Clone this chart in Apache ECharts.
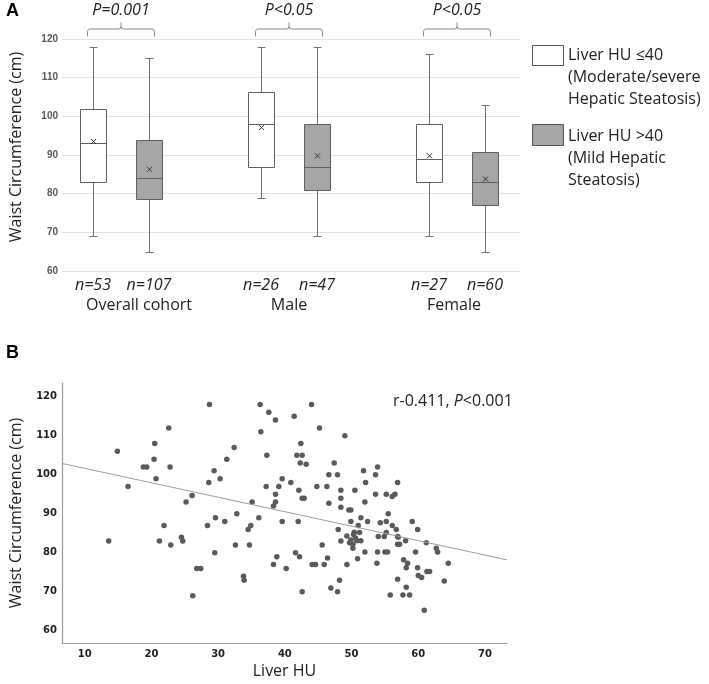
<!DOCTYPE html>
<html><head><meta charset="utf-8">
<script src="https://cdn.jsdelivr.net/npm/echarts@6/dist/echarts.min.js"></script>
<style>html,body{margin:0;padding:0;background:#fff}#c{width:709px;height:684px}</style>
</head><body><div id="c"></div>
<script>
// ---------- Panel A data ----------
const groups = ['Overall cohort', 'Male', 'Female'];
const pValues = ['P=0.001', 'P<0.05', 'P<0.05'];
const nLow = [53, 26, 27];
const nHigh = [107, 47, 60];
// [min, Q1, median, Q3, max]
const statsLow = [[69, 83, 93, 102, 118], [79, 87, 98, 106.2, 118], [69, 83, 89, 98, 116]];
const statsHigh = [[65, 78.5, 84, 94, 115], [69, 81, 87, 98, 118], [65, 77, 83, 90.7, 103]];
const meanLow = [93.5, 97.1, 89.8];
const meanHigh = [86.3, 89.8, 83.8];
const legendNames = ['Liver HU \u226440\n(Moderate/severe\nHepatic Steatosis)', 'Liver HU >40\n(Mild Hepatic\nSteatosis)'];

// ---------- Panel B data ----------
const scatterPoints = [
  [13.6,83],[14.9,106],[16.5,97],[18.8,102],[19.3,102],[20.5,108],[20.4,104],[20.7,99],[21.9,87],[21.2,83],
  [22.6,112],[22.8,102],[22.9,82],[24.5,84],[24.7,83],[25.2,93],[26.1,94.7],[26.2,69],[26.8,76],[27.4,76],
  [28.4,87],[28.6,98],[28.7,118],[29.4,101],[29.6,89],[29.5,80],[30.3,99],[31.0,88],[31.3,104],[32.4,107],
  [32.8,90],[32.6,82],[33.8,74],[33.9,73],[34.5,86],[34.9,87],[34.7,82],[35.1,93],[36.1,89],[36.3,118],
  [36.4,111],[37.2,97],[37.3,105],[37.6,116],[38.3,77],[38.3,92],[38.6,93],[38.6,95],[38.6,114],[38.8,79],
  [39.1,97],[39.6,99],[39.6,88],[40.2,76],[40.9,98],[41.4,115],[41.6,80],[41.8,105],[42.0,88],[42.1,96],
  [42.2,79],[42.3,103],[42.4,108],[42.6,105],[42.6,70],[42.6,94],[42.9,94],[43.2,102.7],[44.0,118],[44.1,77],
  [44.6,77],[44.8,97],[45.2,112],[45.6,82],[45.9,77],[46.3,97],[46.4,78.7],[46.6,92.7],[46.6,100],[46.9,71],
  [47.4,103],[47.9,100],[48.0,86],[47.9,70],[48.2,73],[48.4,94],[48.4,96],[48.4,91.7],[48.4,83],[49.0,110],
  [49.3,77],[49.6,91],[49.9,91],
  [52.0,93],[55.5,90],[51.4,89],[49.9,88],[52.4,88],[54.3,87.7],[55.2,88],[56.1,87],[59.1,88],[51.0,87],
  [56.7,86],[59.9,86],[49.3,84.3],[50.4,85.3],[51.2,85.2],[49.9,83.3],[49.7,82.6],[50.2,82.2],[50.2,81.2],[50.8,83.1],
  [51.4,83.1],[52.0,80.2],[50.9,78.5],[53.9,80.2],[55.0,80.2],[55.4,80.2],[54.0,84.2],[54.9,84.2],[55.2,85.2],[56.9,84.2],
  [58.1,83.1],[56.9,82.2],[57.2,82.2],[61.2,82.6],[62.7,81.2],[62.9,80.2],[59.6,80.2],[53.8,77.3],[57.8,78.2],[58.4,77.3],
  [58.2,76.2],[59.9,76.2],[61.3,75.2],[61.7,75.2],[60.0,74.2],[60.5,73.7],[64.5,77.3],[63.9,72.8],[56.9,73.2],[58.2,71.2],
  [55.8,69.2],[57.7,69.2],[58.7,69.2],[60.9,65.3],
  [51.8,101],[53.9,102],[53.6,100],[52.1,98],[56.9,98],[50.5,96],[53.6,95],[55.2,95],[56.5,95],[56.1,94.4],
  [50.3,84.7],[50.6,83.8],[57.0,84]
];
const fitLine = [[6.6, 102.9], [73.3, 78.2]];
const xTicksB = [10, 20, 30, 40, 50, 60, 70];
const yTicksB = [60, 70, 80, 90, 100, 110, 120];
const corrR = 'r-0.411, ';
const corrP = '<0.001';

// ---------- build structures ----------
const slotNames = [];
const boxData = [];
const bracketData = [];
groups.forEach((g, i) => {
  const lo = slotNames.length;
  slotNames.push('n=' + nLow[i]);
  slotNames.push('n=' + nHigh[i]);
  if (i < groups.length - 1) slotNames.push(' '.repeat(i + 1));
  boxData.push([lo].concat(statsLow[i], [meanLow[i], 0]));
  boxData.push([lo + 1].concat(statsHigh[i], [meanHigh[i], 1]));
  bracketData.push([lo, lo + 1, i]);
});

const groupLabelDx = [18, 0, -3];
const FONT = '"Open Sans", "Liberation Sans", sans-serif';
const BOX_STROKE = '#5f5f5f';
const HIGH_FILL = '#a6a6a6';

function renderBox(params, api) {
  const x = api.value(0);
  const v = [1, 2, 3, 4, 5, 6].map(k => api.value(k));
  const kind = api.value(7);
  const p = v.map(val => api.coord([x, val]));
  const cx = Math.round(p[0][0]) + 0.5;
  const hw = 13, cap = 4, m = 2.5;
  const st = { stroke: BOX_STROKE, lineWidth: 1 };
  const wst = { stroke: '#707070', lineWidth: 1 };
  const yMin = Math.round(p[0][1]) + 0.5, yQ1 = Math.round(p[1][1]) + 0.5, yMd = Math.round(p[2][1]) + 0.5,
        yQ3 = Math.round(p[3][1]) + 0.5, yMax = Math.round(p[4][1]) + 0.5, yMean = p[5][1];
  return {
    type: 'group',
    children: [
      { type: 'line', shape: { x1: cx, y1: yMax, x2: cx, y2: yQ3 }, style: wst },
      { type: 'line', shape: { x1: cx, y1: yQ1, x2: cx, y2: yMin }, style: wst },
      { type: 'line', shape: { x1: cx - cap, y1: yMax, x2: cx + cap, y2: yMax }, style: wst },
      { type: 'line', shape: { x1: cx - cap, y1: yMin, x2: cx + cap, y2: yMin }, style: wst },
      { type: 'rect', shape: { x: cx - hw, y: yQ3, width: 2 * hw, height: yQ1 - yQ3 },
        style: { fill: kind ? HIGH_FILL : '#ffffff', stroke: BOX_STROKE, lineWidth: 1 } },
      { type: 'line', shape: { x1: cx - hw, y1: yMd, x2: cx + hw, y2: yMd }, style: st },
      { type: 'line', shape: { x1: cx - m, y1: yMean - m, x2: cx + m, y2: yMean + m }, style: { stroke: '#333', lineWidth: 1 } },
      { type: 'line', shape: { x1: cx - m, y1: yMean + m, x2: cx + m, y2: yMean - m }, style: { stroke: '#333', lineWidth: 1 } }
    ]
  };
}

function renderBracket(params, api) {
  const gi = api.value(2);
  const a = api.coord([api.value(0), 120]);
  const b = api.coord([api.value(1), 120]);
  const bottom = api.coord([api.value(0), 60])[1];
  const L = a[0] - 5.5, R = b[0] + 5.5, C = (L + R) / 2, top = a[1];
  const yBar = top - 10, yEnd = top - 2.5, yTick = top - 16.5, r = 2.5;
  const d = `M${L},${yEnd} L${L},${yBar + r} Q${L},${yBar} ${L + r},${yBar} L${C - r},${yBar} Q${C},${yBar} ${C},${yBar - r} L${C},${yTick}` +
            ` M${C},${yBar - r} Q${C},${yBar} ${C + r},${yBar} L${R - r},${yBar} Q${R},${yBar} ${R},${yBar + r} L${R},${yEnd}`;
  const mid = (a[0] + b[0]) / 2;
  return {
    type: 'group',
    children: [
      { type: 'path', shape: { pathData: d }, style: { fill: 'none', stroke: '#8a8a8a', lineWidth: 1 } },
      { type: 'text', style: { text: pValues[gi], x: C, y: top - 29, align: 'center', verticalAlign: 'middle',
          fontFamily: FONT, fontSize: 16, fontStyle: 'italic', fill: '#222' } },
      { type: 'text', style: { text: groups[gi], x: mid + groupLabelDx[gi], y: bottom + 34, align: 'center', verticalAlign: 'middle',
          fontFamily: FONT, fontSize: 16, fill: '#222' } }
    ]
  };
}

const chart = echarts.init(document.getElementById('c'), null, { renderer: 'canvas' });
const yName = 'Waist Circumference (cm)';
chart.setOption({
  animation: false,
  backgroundColor: '#ffffff',
  title: [
    { text: 'A', left: 6, top: 2, padding: 0, textStyle: { fontFamily: 'Liberation Sans', fontWeight: 'bold', fontSize: 18, color: '#000' } },
    { text: 'B', left: 6, top: 344, padding: 0, textStyle: { fontFamily: 'Liberation Sans', fontWeight: 'bold', fontSize: 18, color: '#000' } },
    { text: '{n|' + corrR + '}{i|P}{n|' + corrP + '}', left: 393, top: 393, padding: 0,
      textStyle: { fontWeight: 'normal', rich: {
        n: { fontFamily: FONT, fontSize: 16, fontWeight: 'normal', color: '#222' },
        i: { fontFamily: FONT, fontSize: 16, fontWeight: 'normal', fontStyle: 'italic', color: '#222' } } } }
  ],
  grid: [
    { left: 59, top: 39, width: 461, height: 232 },
    { left: 65, top: 39, width: 448, height: 232 },
    { left: 59, top: 383, width: 448, height: 260 }
  ],
  xAxis: [
    { type: 'value', gridIndex: 0, show: false, min: 0, max: 1 },
    { type: 'category', gridIndex: 1, data: slotNames, boundaryGap: true,
      axisLine: { show: false }, axisTick: { show: false },
      axisLabel: { interval: 0, margin: 6, fontFamily: FONT, fontSize: 16, fontStyle: 'italic', color: '#222' } },
    { type: 'value', gridIndex: 2, min: 6.6, max: 73.3, splitLine: { show: false },
      axisLine: { show: true, onZero: false, lineStyle: { color: '#9a9a9a', width: 1.2 } }, axisTick: { show: false },
      axisLabel: { customValues: xTicksB, margin: 6, fontFamily: 'DejaVu Sans', fontWeight: 'bold', fontSize: 10, color: '#1f1f1f' },
      name: 'Liver HU', nameLocation: 'middle', nameGap: 20,
      nameTextStyle: { fontFamily: FONT, fontSize: 16, color: '#222' } }
  ],
  yAxis: [
    { type: 'value', gridIndex: 0, min: 60, max: 120, interval: 10,
      axisLine: { show: false }, axisTick: { show: false },
      splitLine: { show: true, lineStyle: { color: '#e2e2e2', width: 1 } },
      axisLabel: { margin: 4, fontFamily: 'Liberation Sans', fontWeight: 'bold', fontSize: 10, color: '#595959' },
      name: yName, nameLocation: 'middle', nameGap: 38,
      nameTextStyle: { fontFamily: FONT, fontSize: 16, color: '#222', padding: [0, 0, 0, 16] } },
    { type: 'value', gridIndex: 1, min: 60, max: 120, show: false },
    { type: 'value', gridIndex: 2, min: 56.9, max: 123.5, splitLine: { show: false },
      axisLine: { show: true, onZero: false, lineStyle: { color: '#9a9a9a', width: 1.2 } }, axisTick: { show: false },
      axisLabel: { customValues: yTicksB, margin: 5, fontFamily: 'DejaVu Sans', fontWeight: 'bold', fontSize: 10, color: '#1f1f1f' },
      name: yName, nameLocation: 'middle', nameGap: 38,
      nameTextStyle: { fontFamily: FONT, fontSize: 16, color: '#222' } }
  ],
  series: [
    { type: 'custom', name: 'boxes', xAxisIndex: 1, yAxisIndex: 1, data: boxData, renderItem: renderBox,
      encode: { x: 0, y: [1, 2, 3, 4, 5] }, silent: true },
    { type: 'custom', name: 'brackets', xAxisIndex: 1, yAxisIndex: 1, data: bracketData, renderItem: renderBracket,
      encode: { x: 0 }, clip: false, silent: true },
    { type: 'scatter', name: 'points', xAxisIndex: 2, yAxisIndex: 2, data: scatterPoints, symbolSize: 5.5,
      itemStyle: { color: '#5a5a5a', opacity: 1 } },
    { type: 'line', name: 'fit', xAxisIndex: 2, yAxisIndex: 2, data: fitLine, showSymbol: false, symbol: 'none',
      lineStyle: { color: '#9e9e9e', width: 1 }, silent: true }
  ],
  graphic: [
    { type: 'rect', left: 532, top: 45, shape: { width: 31, height: 20 }, style: { fill: '#fff', stroke: '#555', lineWidth: 1 } },
    { type: 'text', left: 568, top: 44, style: { text: legendNames[0], fontFamily: FONT, fontSize: 16, lineHeight: 22, fill: '#222' } },
    { type: 'rect', left: 532, top: 124, shape: { width: 31, height: 21 }, style: { fill: HIGH_FILL, stroke: '#555', lineWidth: 1 } },
    { type: 'text', left: 568, top: 125, style: { text: legendNames[1], fontFamily: FONT, fontSize: 16, lineHeight: 22, fill: '#222' } }
  ]
});
</script>
</body></html>
